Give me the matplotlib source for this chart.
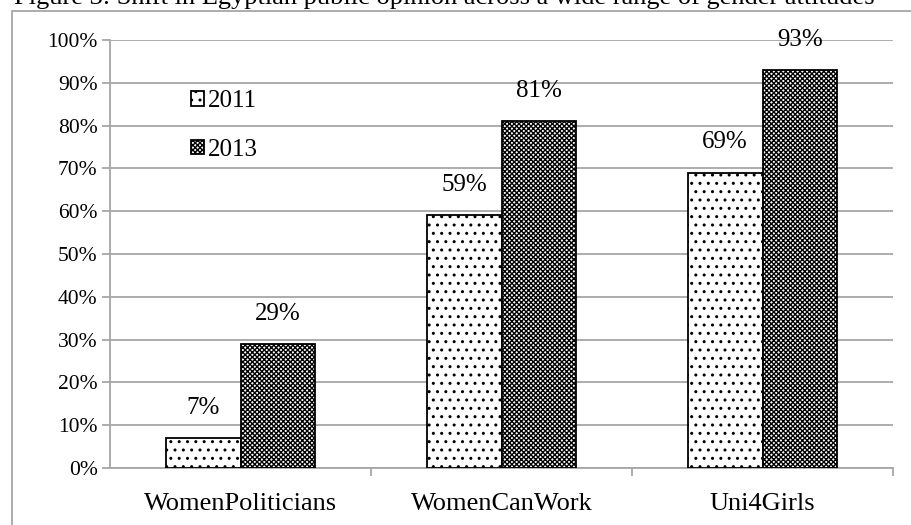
import matplotlib.pyplot as plt
import numpy as np
from matplotlib.patches import Rectangle

# survey results by year
categories = ["WomenPoliticians", "WomenCanWork", "Uni4Girls"]
years = ["2011", "2013"]
vals_2011 = [7, 59, 69]
vals_2013 = [29, 81, 93]

plt.rcParams['font.family'] = ['Liberation Serif', 'DejaVu Serif']
plt.rcParams['hatch.linewidth'] = 1.0

fig = plt.figure(figsize=(9.11, 5.25), dpi=100)
ax = fig.add_axes([110/911, 1 - 468/525, (893 - 110)/911, (468 - 40)/525])

grey = '#a6a6a6'
x = np.arange(len(categories))
w = 0.287

b1 = ax.bar(x - w/2, vals_2011, w, color='white', edgecolor='black', linewidth=1.3,
            hatch='..', label=years[0], zorder=3)
b2 = ax.bar(x + w/2, vals_2013, w, color='white', edgecolor='black', linewidth=1.3,
            hatch='xxxxxxx', label=years[1], zorder=3)

for bars, vals in [(b1, vals_2011), (b2, vals_2013)]:
    for rect, v in zip(bars, vals):
        ax.text(rect.get_x() + rect.get_width()/2, v + 4.5, f"{v}%",
                ha='center', va='bottom', fontsize=18)

ax.set_ylim(0, 100)
ax.set_xlim(-0.5, 2.5)
ax.set_yticks(np.arange(0, 101, 10))
ax.set_yticklabels([f"{t}%" for t in range(0, 101, 10)], fontsize=15.5)
ax.yaxis.grid(True, color=grey, linewidth=1.3, zorder=0)
ax.set_axisbelow(True)

ax.set_xticks(x)
ax.set_xticklabels(categories, fontsize=19)
ax.set_xticks([0.5, 1.5, 2.5], minor=True)
ax.tick_params(axis='x', which='major', length=0, pad=18)
ax.tick_params(axis='x', which='minor', length=6, color=grey, width=1.3)
ax.tick_params(axis='y', length=6, color=grey, width=1.3, pad=3)

for side in ['top', 'right']:
    ax.spines[side].set_visible(False)
for side in ['left', 'bottom']:
    ax.spines[side].set_color(grey)
    ax.spines[side].set_linewidth(1.3)

ax.legend(loc='upper left', bbox_to_anchor=(0.075, 0.935), frameon=False, fontsize=18,
          handlelength=0.5, handleheight=0.5, handletextpad=0.15, labelspacing=1.05)

# chart area border and the caption running off the top edge
fig.patches.append(Rectangle((12/911, -0.5), 2, 1 - 11/525 + 0.5, transform=fig.transFigure,
                             fill=False, edgecolor=grey, linewidth=1.3))
fig.text(14/911, 1 - 4/525, "Figure 3: Shift in Egyptian public opinion across a wide range of gender attitudes",
         ha='left', va='baseline', fontsize=19)

fig.savefig("out.png", dpi=100)
